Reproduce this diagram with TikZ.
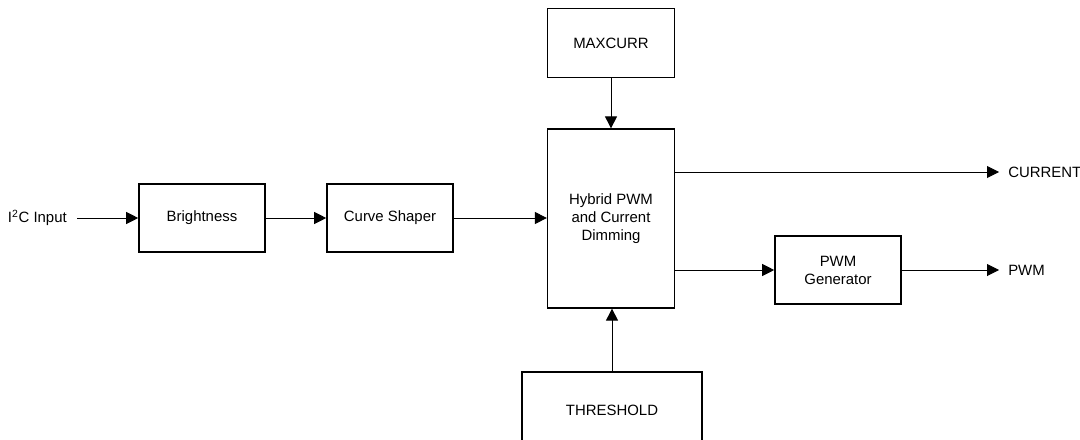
\documentclass[tikz,border=0pt]{standalone}
\usepackage{fontspec}
\setmainfont{Liberation Sans}
\usetikzlibrary{arrows.meta}

\tikzset{
  block/.style={draw, line width=1.2pt, align=center, inner sep=0pt, font=\fontsize{11.2}{13.5}\selectfont},
  lbl/.style={font=\fontsize{11.2}{13.5}\selectfont, inner sep=0pt},
  link/.style={line width=0.7pt, -{Triangle[length=9pt,width=9pt]}}
}

\begin{document}
\begin{tikzpicture}[x=0.75pt, y=-0.75pt]
      \useasboundingbox (0, 0) rectangle (1080, 439);
      \clip (0, 0) rectangle (1080, 439);

      % blocks
      \node[block, minimum width=94.5pt, minimum height=51pt] (bright) at (202, 218) {Brightness};
      \node[block, minimum width=94.5pt, minimum height=51pt] (shaper) at (390, 218) {Curve Shaper};
      \node[block, minimum width=95pt, minimum height=134pt] (hybrid) at (611, 218.5) {Hybrid PWM\\and Current\\Dimming};
      \node[block, minimum width=95pt, minimum height=51.75pt] (maxcurr) at (611, 43) {MAXCURR};
      \node[block, minimum width=94.5pt, minimum height=51pt] (pwmgen) at (838, 270) {PWM\\Generator};
      \node[block, minimum width=135pt, minimum height=57pt] (thresh) at (612, 410) {THRESHOLD};

      % labels
      \node[lbl, anchor=east] (input) at (67, 218) {I\textsuperscript{2}C Input};
      \node[lbl, anchor=west] (current) at (1008, 172) {CURRENT};
      \node[lbl, anchor=west] (pwm) at (1008, 270) {PWM};
      \coordinate (inend) at (77, 218);
      \coordinate (curend) at (999, 172);
      \coordinate (pwmend) at (999, 270);

      % connectors
      \draw[link] (inend) -- (bright.west);
      \draw[link] (bright.east) -- (shaper.west);
      \draw[link] (shaper.east) -- (shaper.east -| hybrid.west);
      \draw[link] (maxcurr.south) -- (hybrid.north);
      \draw[link] (thresh.north) -- (thresh.north |- hybrid.south);
      \draw[link] (hybrid.east |- curend) -- (curend);
      \draw[link] (hybrid.east |- pwmgen.west) -- (pwmgen.west);
      \draw[link] (pwmgen.east) -- (pwmend);
    \end{tikzpicture}
\end{document}
